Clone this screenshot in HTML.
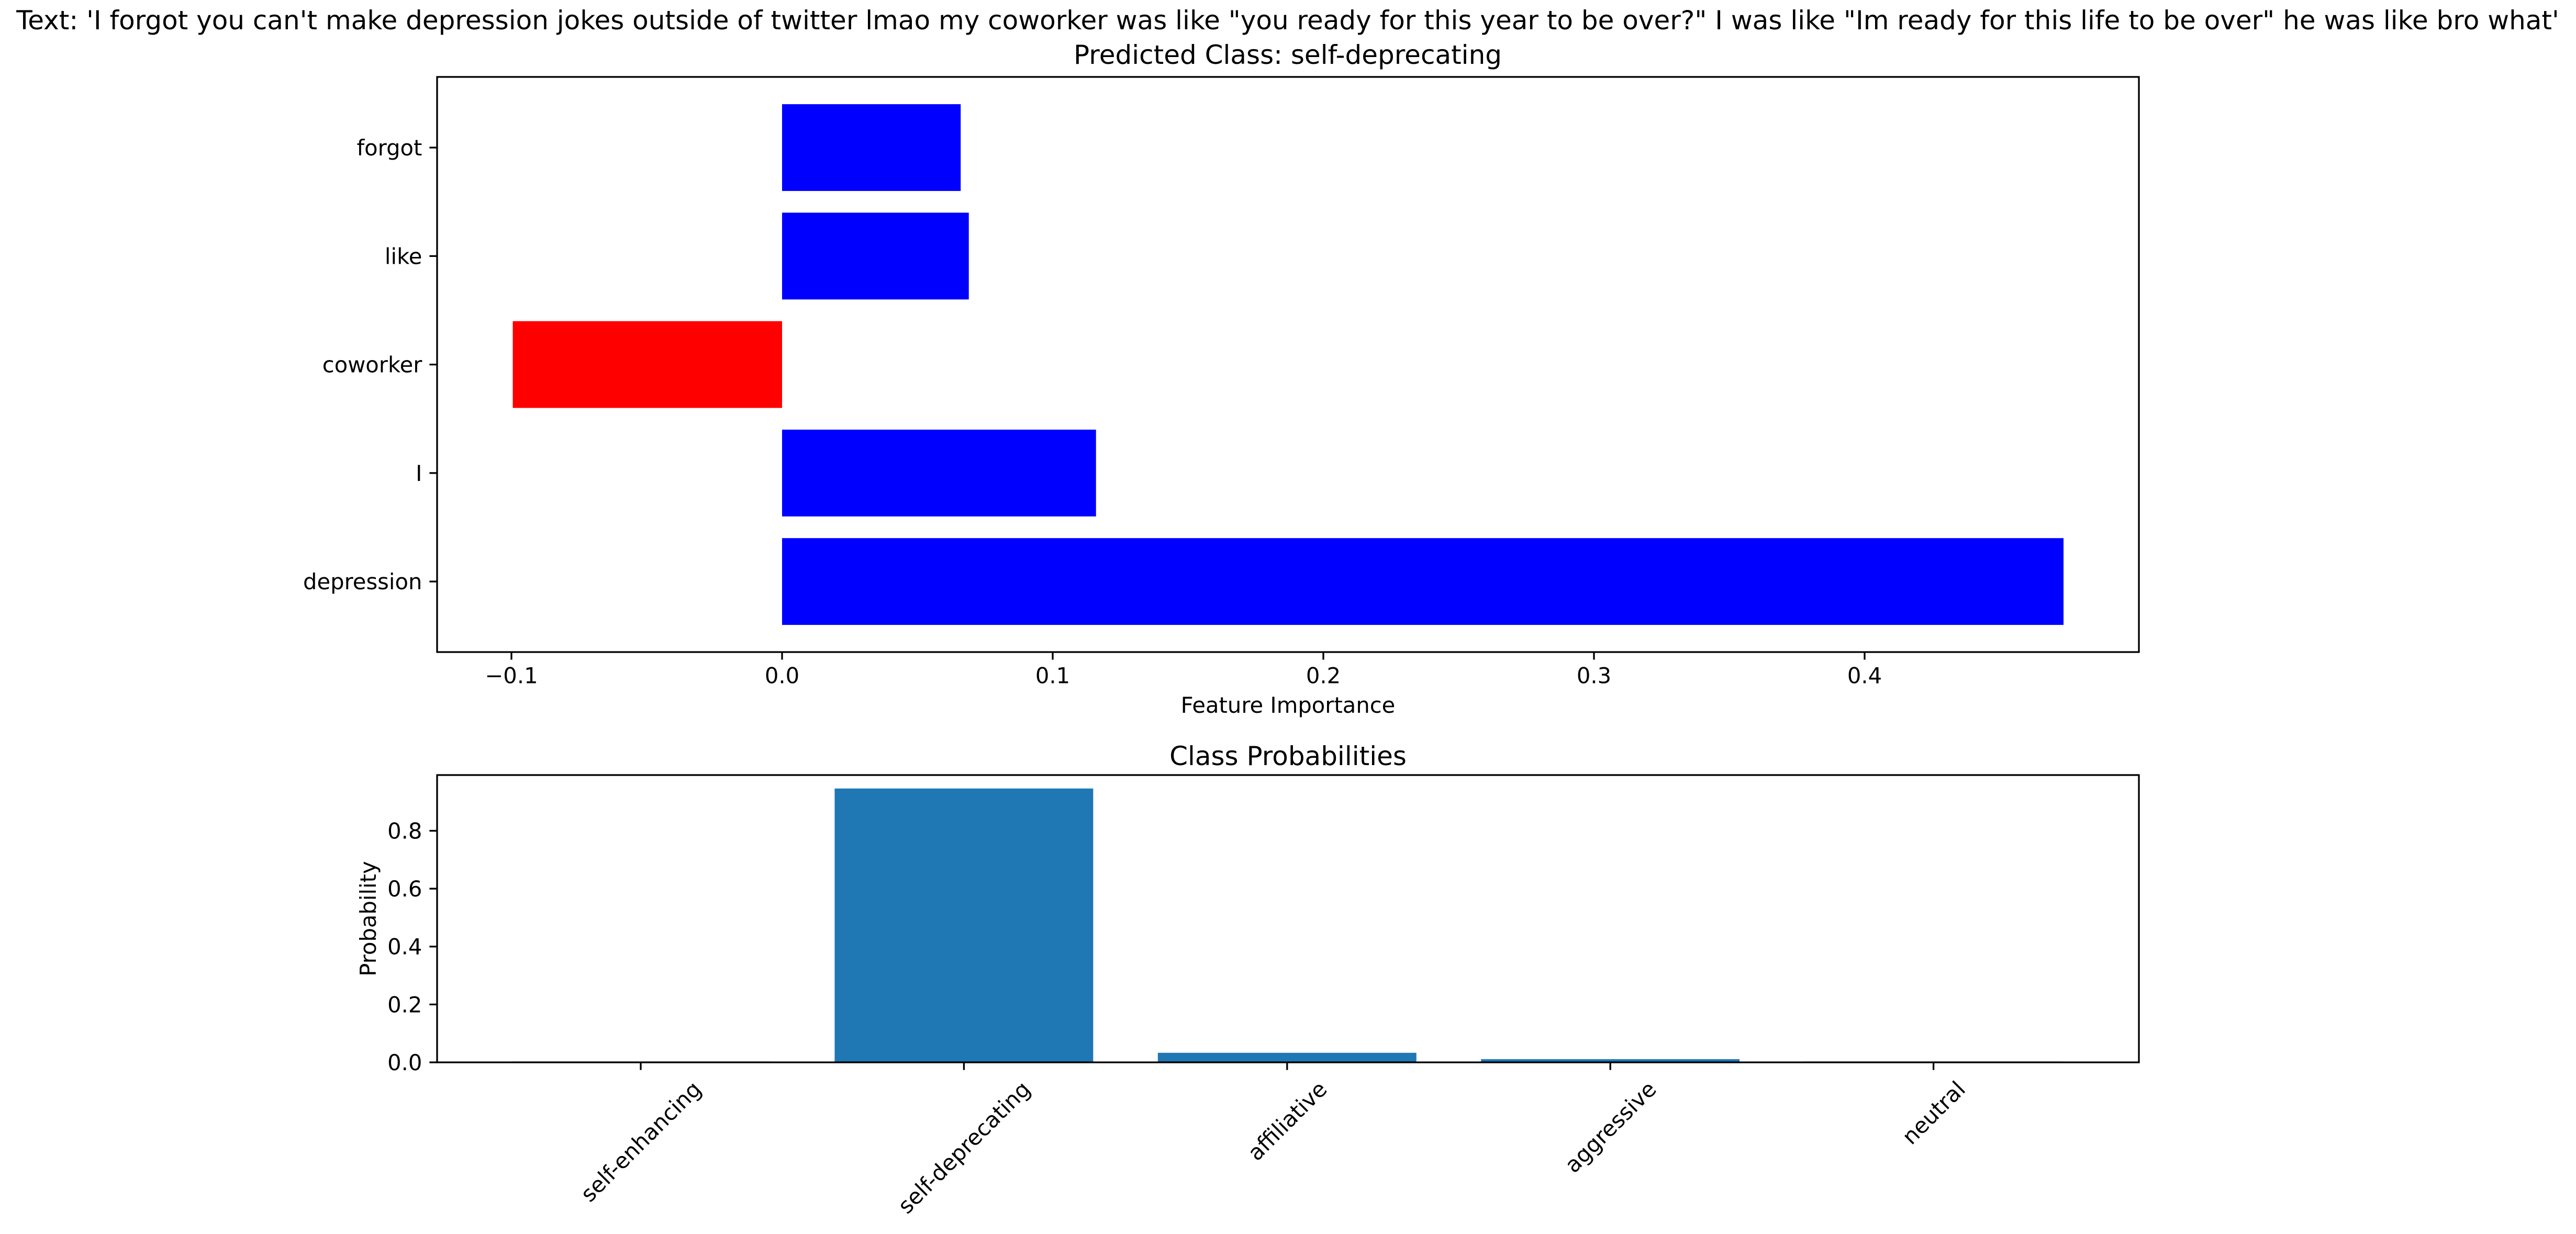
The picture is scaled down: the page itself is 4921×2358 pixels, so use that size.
<!DOCTYPE html>
<html><head><meta charset="utf-8"><style>
html,body{margin:0;padding:0;background:#fff}
svg{display:block}
text{font-family:"DejaVu Sans","Liberation Sans",sans-serif;fill:#000}
</style></head><body>
<svg id="fig" width="4921" height="2358" viewBox="0 0 4921 2358" xmlns="http://www.w3.org/2000/svg">
<rect width="4921" height="2358" fill="#fff"/>
<text x="2460" y="56" font-size="50" text-anchor="middle">Text: 'I forgot you can't make depression jokes outside of twitter lmao my coworker was like "you ready for this year to be over?" I was like "Im ready for this life to be over" he was like bro what'</text>
<text x="2460" y="122" font-size="50" text-anchor="middle">Predicted Class: self-deprecating</text>
<g id="topchart"></g>
<g id="botchart"></g>
</svg>
<script>
const features = ["forgot","like","coworker","I","depression"];
const importances = [0.066, 0.069, -0.0995, 0.116, 0.4735];
const xTicks = [-0.1,0.0,0.1,0.2,0.3,0.4];
const xTickLabels = ["\u22120.1","0.0","0.1","0.2","0.3","0.4"];
const classes = ["self-enhancing","self-deprecating","affiliative","aggressive","neutral"];
const probs = [0.003, 0.946, 0.033, 0.011, 0.003];
const yTicks = [0.0,0.2,0.4,0.6,0.8];
const yTickLabels = ["0.0","0.2","0.4","0.6","0.8"];

const NS="http://www.w3.org/2000/svg";
function mk(parent,tag,attrs,txt){const e=document.createElementNS(NS,tag);for(const k in attrs)e.setAttribute(k,attrs[k]);if(txt!==undefined)e.textContent=txt;parent.appendChild(e);return e;}
const SW=3.3, TL=14.6, FS=41.7;

// ---- top chart ----
const T={l:835,r:4086,t:147,b:1246};
const gTop=document.getElementById('topchart');
const xs=v=>1494+(v-0)*5170;
const ysT=i=>282+i*207.3;
const barH=0.8*207.3;
features.forEach((f,i)=>{
  const v=importances[i];
  const x0=Math.min(xs(0),xs(v)), w=Math.abs(xs(v)-xs(0));
  const r=mk(gTop,'rect',{x:x0,y:ysT(i)-barH/2,width:w,height:barH,fill:v<0?'#ff0000':'#0000ff'});
  
  
  mk(gTop,'line',{x1:T.l-TL,x2:T.l,y1:ysT(i),y2:ysT(i),stroke:'#000','stroke-width':SW});
  const lb=mk(gTop,'text',{x:T.l-TL-14,y:ysT(i)+15,'font-size':FS,'text-anchor':'end'},f);
  
  
});
xTicks.forEach((v,i)=>{
  mk(gTop,'line',{x1:xs(v),x2:xs(v),y1:T.b,y2:T.b+TL,stroke:'#000','stroke-width':SW});
  const lb=mk(gTop,'text',{x:xs(v),y:T.b+TL+14+31,'font-size':FS,'text-anchor':'middle'},xTickLabels[i]);
  
  
});
const xt=mk(gTop,'text',{x:(T.l+T.r)/2,y:1362,'font-size':FS,'text-anchor':'middle'},'Feature Importance');


const f1=mk(gTop,'rect',{x:T.l,y:T.t,width:T.r-T.l,height:T.b-T.t,fill:'none',stroke:'#000','stroke-width':SW});



// ---- bottom chart ----
const B={l:835,r:4086,t:1481,b:2030};
const gBot=document.getElementById('botchart');
const ymax=0.9925;
const yb=v=>B.b-(v/ymax)*(B.b-B.t);
const xb=i=>1224+i*617.4;
const bw=0.8*617.4;
classes.forEach((c,i)=>{
  const r=mk(gBot,'rect',{x:xb(i)-bw/2,y:yb(probs[i]),width:bw,height:B.b-yb(probs[i]),fill:'#1f77b4'});
  
  
  mk(gBot,'line',{x1:xb(i),x2:xb(i),y1:B.b,y2:B.b+TL,stroke:'#000','stroke-width':SW});
  const lb=mk(gBot,'text',{x:0,y:0,'font-size':FS,'text-anchor':'middle'},c);
  
  
  let w=FS*0.55*c.length; try{w=lb.getComputedTextLength()||w;}catch(e){}
  const ext=(w+FS*1.0)*0.7071;
  const cy=B.b+TL+14+ext/2, cx=xb(i);
  lb.setAttribute('transform',`translate(${cx},${cy}) rotate(-45) translate(0,15)`);
});
yTicks.forEach((v,i)=>{
  mk(gBot,'line',{x1:B.l-TL,x2:B.l,y1:yb(v),y2:yb(v),stroke:'#000','stroke-width':SW});
  const lb=mk(gBot,'text',{x:B.l-TL-14,y:yb(v)+15,'font-size':FS,'text-anchor':'end'},yTickLabels[i]);
  
  
});
const yl=mk(gBot,'text',{x:0,y:0,'font-size':FS,'text-anchor':'middle',transform:`translate(718,${(B.t+B.b)/2}) rotate(-90)`},'Probability');


const bt=mk(gBot,'text',{x:(B.l+B.r)/2,y:1462,'font-size':50,'text-anchor':'middle'},'Class Probabilities');


const f2=mk(gBot,'rect',{x:B.l,y:B.t,width:B.r-B.l,height:B.b-B.t,fill:'none',stroke:'#000','stroke-width':SW});


</script>
</body></html>
